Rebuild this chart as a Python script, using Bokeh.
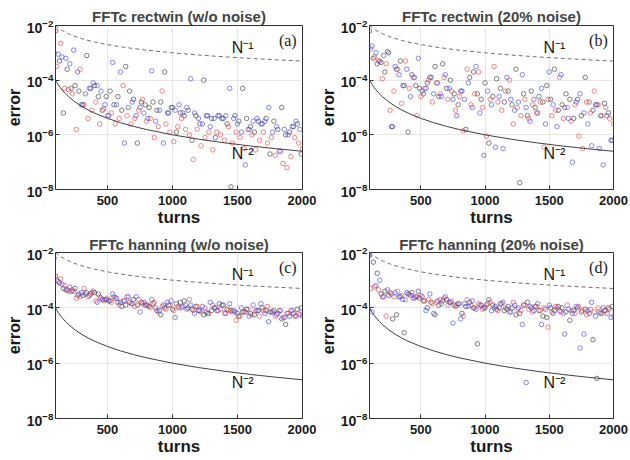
from bokeh.plotting import figure
from bokeh.layouts import gridplot
from bokeh.models import Range1d, FixedTicker, Label
from bokeh.embed import file_html
from bokeh.resources import INLINE

# sample positions (turns) shared by the three series of each panel
turns = list(range(100, 2000, 30))

# values stored as log10(error)
a_black = [-2.2, -3.3, -5.2, -3.6, -4.3, -4.2, -4.4, -4.9, -3.1, -4.3, -4.2, -4.6, -5.1, -4.6, -4.4, -4.9,
           -4.6, -5.1, -3.5, -4.4, -4.7, -6.3, -4.8, -4.9, -5.0, -4.8, -5.1, -4.8, -3.7, -5.2, -5.0, -5.9,
           -5.2, -5.3, -5.1, -6.2, -5.3, -5.6, -4.0, -5.3, -5.4, -6.1, -5.3, -5.4, -5.6, -7.9, -5.3, -5.5,
           -4.3, -5.4, -5.7, -5.9, -5.5, -5.6, -5.4, -6.7, -5.5, -5.8, -5.0, -6.0, -5.9, -5.7, -5.6, -6.7]
a_red = [-3.5, -2.65, -4.3, -4.35, -4.5, -5.8, -3.6, -4.9, -5.4, -5.1, -4.8, -5.6, -5.05, -5.3, -5.2, -5.6,
         -5.4, -4.2, -5.3, -5.6, -5.4, -5.1, -4.7, -5.5, -5.4, -6.1, -5.7, -4.4, -5.6, -5.9, -6.25, -5.7,
         -5.4, -5.8, -6.0, -6.9, -5.8, -6.4, -6.1, -5.9, -6.55, -5.9, -6.0, -6.2, -5.7, -6.3, -5.9, -6.1,
         -6.5, -5.8, -6.0, -6.55, -6.2, -5.9, -6.3, -6.1, -6.75, -6.6, -7.05, -7.2, -6.8, -6.1, -6.3, -6.5]
a_blue = [-3.0, -3.05, -3.15, -3.2, -3.4, -2.9, -3.7, -4.9, -4.5, -4.3, -4.1, -4.2, -4.4, -4.9, -5.3, -3.35,
          -4.9, -3.7, -6.3, -5.0, -4.8, -5.3, -5.0, -5.2, -5.4, -3.66, -5.5, -5.1, -6.3, -5.2, -5.0, -5.1,
          -4.9, -5.2, -5.0, -3.95, -5.2, -5.4, -5.6, -5.3, -5.7, -5.4, -5.3, -5.4, -5.3, -4.3, -5.4, -5.6,
          -5.9, -7.1, -5.8, -5.5, -5.4, -5.6, -5.5, -5.0, -5.9, -5.7, -6.6, -5.8, -6.0, -5.7, -5.5, -5.8]

b_black = [-2.2, -3.2, -3.4, -3.35, -3.7, -3.0, -5.7, -3.6, -3.3, -4.2, -5.9, -3.8, -4.2, -4.3, -4.5, -4.1,
           -3.9, -3.5, -4.6, -3.4, -4.3, -4.0, -4.5, -4.9, -4.4, -5.8, -3.9, -3.7, -4.5, -4.7, -4.1, -6.3,
           -4.6, -3.95, -4.3, -4.8, -4.4, -4.9, -3.6, -7.75, -4.5, -5.3, -4.4, -5.0, -4.6, -4.8, -4.2, -4.7,
           -3.6, -5.1, -4.9, -4.5, -4.7, -5.4, -4.7, -5.3, -3.9, -4.8, -5.1, -4.9, -5.3, -4.85, -5.2, -6.2]
b_red = [-2.85, -3.15, -3.3, -3.95, -3.4, -5.1, -4.4, -3.6, -4.85, -3.3, -4.3, -3.9, -5.3, -4.6, -4.3, -4.0,
         -4.8, -4.1, -4.5, -3.9, -4.7, -4.4, -5.1, -4.6, -5.85, -3.6, -4.9, -4.5, -3.7, -5.0, -6.05, -4.7,
         -3.5, -4.8, -5.1, -4.4, -4.0, -5.6, -5.0, -5.3, -4.7, -5.4, -4.9, -5.2, -4.8, -6.45, -4.7, -5.3,
         -5.1, -3.9, -5.4, -5.0, -5.5, -4.9, -6.05, -6.5, -4.8, -5.2, -4.4, -4.9, -5.3, -5.0, -5.4, -5.6]
b_blue = [-2.85, -2.75, -3.0, -3.3, -3.1, -2.95, -5.7, -3.5, -3.8, -4.2, -3.6, -4.6, -3.9, -3.2, -4.4, -4.3,
          -3.9, -4.5, -4.1, -4.6, -3.8, -4.3, -4.7, -5.3, -4.4, -4.7, -4.1, -5.0, -3.5, -5.2, -6.75, -4.4,
          -4.9, -6.45, -4.6, -6.5, -3.9, -4.7, -5.1, -4.8, -3.8, -5.0, -5.5, -4.7, -5.2, -4.3, -5.6, -3.7,
          -4.9, -5.7, -3.8, -5.0, -5.4, -7.0, -4.8, -4.5, -5.2, -5.6, -6.4, -4.9, -6.5, -7.1, -5.3, -6.2]

c_black = [-2.85, -3.1, -3.3, -3.35, -3.4, -3.3, -3.5, -3.55, -3.45, -3.5, -3.45, -3.5, -3.7, -3.7, -3.75, -3.6,
           -3.8, -3.95, -3.9, -3.8, -3.7, -3.9, -3.8, -3.9, -3.95, -3.85, -4.1, -4.25, -4.0, -3.9, -4.05, -3.85,
           -3.8, -3.75, -4.0, -4.05, -3.95, -4.1, -4.25, -4.2, -4.1, -4.0, -3.85, -3.9, -4.05, -4.1, -4.15, -4.3,
           -4.15, -4.05, -4.2, -4.25, -4.1, -4.0, -4.1, -4.15, -4.1, -4.2, -4.4, -4.6, -4.3, -4.2, -4.05, -4.0]
c_red = [-3.0, -2.95, -3.2, -3.4, -3.35, -3.65, -3.6, -3.3, -3.6, -3.45, -3.75, -3.6, -3.75, -3.65, -3.8, -3.65,
         -3.9, -3.75, -3.6, -3.85, -3.95, -3.7, -3.85, -3.9, -4.0, -3.8, -4.15, -3.95, -4.05, -3.9, -4.1, -3.95,
         -4.0, -3.9, -3.7, -4.1, -3.95, -4.15, -4.0, -4.2, -3.9, -4.1, -4.05, -4.2, -4.1, -4.15, -4.45, -4.3,
         -4.15, -4.05, -4.25, -4.1, -4.3, -4.1, -3.95, -4.15, -4.3, -4.1, -4.35, -4.2, -4.1, -4.3, -4.2, -4.3]
c_blue = [-2.2, -3.05, -3.15, -3.35, -3.25, -3.4, -3.55, -3.45, -3.5, -3.55, -3.4, -3.8, -3.65, -3.7, -3.75, -3.5,
          -3.65, -3.8, -3.75, -3.6, -3.85, -3.6, -4.15, -3.8, -3.9, -3.7, -4.0, -4.1, -3.9, -3.8, -3.75, -4.35,
          -4.0, -3.95, -4.05, -3.9, -4.2, -4.1, -3.95, -4.15, -3.8, -4.0, -4.1, -3.9, -4.2, -3.85, -4.1, -4.2,
          -4.0, -4.15, -4.3, -3.9, -4.1, -3.85, -4.2, -4.5, -4.15, -4.25, -4.1, -4.35, -4.2, -4.1, -4.3, -4.25]

d_black = [-2.1, -2.35, -2.75, -3.5, -3.4, -3.55, -4.4, -4.25, -3.6, -4.9, -3.5, -3.45, -3.6, -3.65, -3.75, -4.0,
           -3.8, -4.25, -3.9, -3.75, -3.7, -3.8, -3.9, -3.85, -4.2, -3.95, -3.8, -4.0, -5.3, -3.9, -4.0, -3.7,
           -3.9, -4.05, -3.85, -4.1, -3.95, -4.0, -4.25, -4.2, -3.9, -3.8, -4.0, -3.95, -4.1, -4.3, -4.35, -4.0,
           -4.1, -3.95, -4.0, -4.15, -4.45, -4.1, -4.0, -4.15, -4.05, -4.2, -5.15, -6.55, -4.2, -4.1, -4.0, -3.95]
d_red = [-3.3, -3.25, -3.35, -3.6, -4.3, -3.45, -3.6, -3.4, -3.55, -3.7, -3.5, -3.65, -3.6, -3.55, -3.75, -3.7,
         -3.85, -3.8, -3.7, -3.65, -3.9, -3.75, -3.95, -3.85, -4.3, -3.7, -3.9, -4.0, -3.85, -4.05, -3.9, -3.8,
         -4.0, -4.1, -3.85, -4.0, -4.15, -3.8, -4.05, -4.1, -3.9, -4.05, -4.15, -3.95, -4.1, -4.0, -4.7, -4.15,
         -3.95, -4.1, -4.2, -3.9, -4.1, -4.2, -3.95, -4.1, -4.25, -4.05, -4.15, -4.0, -4.2, -4.1, -4.05, -4.3]
d_blue = [-2.1, -4.15, -3.2, -3.0, -3.6, -3.35, -3.5, -3.45, -3.6, -3.7, -3.45, -3.55, -3.65, -3.4, -3.6, -4.1,
          -3.5, -4.2, -3.75, -3.85, -3.6, -3.8, -4.55, -3.9, -4.4, -3.85, -3.95, -3.75, -4.05, -3.9, -4.0, -3.85,
          -4.1, -3.95, -4.0, -3.8, -4.05, -4.15, -3.9, -4.0, -4.6, -6.7, -3.95, -4.1, -3.85, -4.6, -4.05, -3.9,
          -4.2, -4.0, -4.15, -4.95, -4.05, -4.2, -3.95, -5.45, -4.95, -4.1, -3.8, -4.3, -4.15, -4.0, -4.2, -4.35]

# reference scaling curves N^-1 and N^-2
ref_turns = [100, 110, 120, 135, 150, 175, 200, 250, 300, 350, 400, 500, 600, 700, 800, 1000,
             1200, 1400, 1600, 1800, 2000]
ref_inv1 = [1e-2, 9.09e-3, 8.33e-3, 7.41e-3, 6.67e-3, 5.71e-3, 5e-3, 4e-3, 3.33e-3, 2.86e-3, 2.5e-3,
            2e-3, 1.67e-3, 1.43e-3, 1.25e-3, 1e-3, 8.33e-4, 7.14e-4, 6.25e-4, 5.56e-4, 5e-4]
ref_inv2 = [1e-4, 8.26e-5, 6.94e-5, 5.49e-5, 4.44e-5, 3.27e-5, 2.5e-5, 1.6e-5, 1.11e-5, 8.16e-6, 6.25e-6,
            4e-6, 2.78e-6, 2.04e-6, 1.56e-6, 1e-6, 6.94e-7, 5.1e-7, 3.91e-7, 3.09e-7, 2.5e-7]

titles = ["FFTc rectwin (w/o noise)", "FFTc rectwin (20% noise)",
          "FFTc hanning (w/o noise)", "FFTc hanning (20% noise)"]
letters = ["(a)", "(b)", "(c)", "(d)"]
x_ticks = [500, 1000, 1500, 2000]
y_ticks = [1e-8, 1e-6, 1e-4, 1e-2]

SANS = "Liberation Sans"
SERIF = "Liberation Serif"
COLORS = {"black": "#3a3a3a", "red": "#f04444", "blue": "#4444f0"}


def panel(idx, series, w, h, ml, mr, mt, mb, xstand, tstand):
    p = figure(width=w, height=h, x_range=Range1d(100, 2000),
               y_range=Range1d(1e-8, 1e-2), y_axis_type="log", tools="",
               toolbar_location=None, output_backend="svg",
               min_border_left=ml, min_border_right=mr, min_border_top=mt, min_border_bottom=mb,
               title=titles[idx])
    p.title.text_font = SANS
    p.title.text_font_style = "bold"
    p.title.text_font_size = "15px"
    p.title.align = "center"
    p.title.standoff = tstand
    p.title.offset = 0
    p.outline_line_color = "#303030"
    p.outline_line_width = 1
    p.outline_line_alpha = 1
    p.background_fill_color = "white"
    p.border_fill_color = "white"

    for ax in (p.xaxis[0], p.yaxis[0]):
        ax.axis_line_color = None
        ax.major_tick_in = 4
        ax.major_tick_out = 0
        ax.major_tick_line_color = "#303030"
        ax.minor_tick_line_color = None
        ax.major_label_text_font = SANS
        ax.major_label_text_font_style = "bold"
        ax.major_label_text_color = "#1a1a1a"
        ax.axis_label_text_font = SANS
        ax.axis_label_text_font_style = "bold"
        ax.axis_label_text_color = "#1a1a1a"
    p.xaxis.major_label_text_font_size = "13px"
    p.yaxis.major_label_text_font_size = "14px"
    p.xaxis.ticker = FixedTicker(ticks=x_ticks)
    p.yaxis.ticker = FixedTicker(ticks=y_ticks)
    p.xaxis.axis_label = "turns"
    p.yaxis.axis_label = "error"
    p.xaxis.axis_label_text_font_size = "17px"
    p.yaxis.axis_label_text_font_size = "16px"
    p.xaxis.major_label_standoff = xstand
    p.yaxis.major_label_standoff = 2
    p.xaxis.axis_label_standoff = 0
    p.yaxis.axis_label_standoff = 1
    p.xgrid.ticker = FixedTicker(ticks=x_ticks)
    p.ygrid.ticker = FixedTicker(ticks=y_ticks)
    p.grid.grid_line_color = "#e6e6e6"
    p.grid.grid_line_width = 1
    p.ygrid.minor_grid_line_color = None

    offsets = {"black": 0, "red": 10, "blue": -10}
    for name in ("black", "red", "blue"):
        xs = [t + offsets[name] for t in turns]
        ys = [10 ** v for v in series[name]]
        p.scatter(xs, ys, marker="circle", size=4.5, fill_color=None,
                  line_color=COLORS[name], line_width=0.8, line_alpha=0.8)

    p.line(ref_turns, ref_inv1, line_color="#707070", line_dash="4 3", line_width=1)
    p.line(ref_turns, ref_inv2, line_color="#404040", line_width=1)

    p.add_layout(Label(x=1540, y=10 ** -2.8, text="N\u207b\u00b9", text_font=SANS,
                       text_font_size="16px", text_align="center", text_baseline="middle",
                       text_color="#1a1a1a"))
    p.add_layout(Label(x=1540, y=10 ** -6.7, text="N\u207b\u00b2", text_font=SANS,
                       text_font_size="16px", text_align="center", text_baseline="middle",
                       text_color="#1a1a1a"))
    p.add_layout(Label(x=1955, y=10 ** -2.55, text=letters[idx], text_font=SERIF,
                       text_font_size="16px", text_align="right", text_baseline="middle",
                       text_color="#1a1a1a"))
    return p


pa = panel(0, {"black": a_black, "red": a_red, "blue": a_blue}, 316, 230, 55, 14, 25, 41, 6, 1)
pb = panel(1, {"black": b_black, "red": b_red, "blue": b_blue}, 314, 230, 51, 17, 25, 41, 6, 1)
pc = panel(2, {"black": c_black, "red": c_red, "blue": c_blue}, 316, 229, 55, 14, 22, 41, 6, 0)
pd = panel(3, {"black": d_black, "red": d_red, "blue": d_blue}, 314, 229, 51, 17, 22, 41, 6, 0)

grid = gridplot([[pa, pb], [pc, pd]], toolbar_location=None)

open("out.html", "w").write(file_html(grid, INLINE))
